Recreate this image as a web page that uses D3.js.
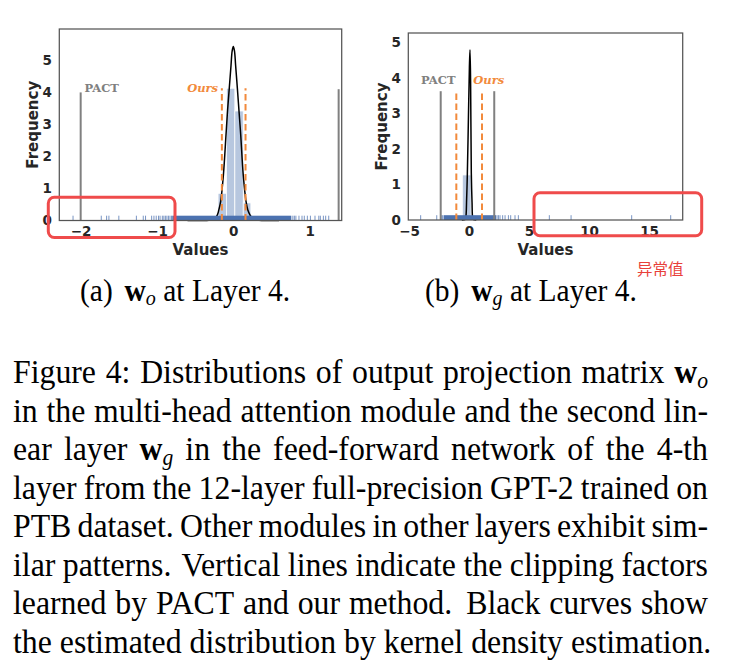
<!DOCTYPE html>
<html><head><meta charset="utf-8">
<script src="https://cdn.jsdelivr.net/npm/d3@7"></script>
<style>body{margin:0;background:#fff;} svg{display:block;}</style>
</head><body>
<svg id="fig" width="732" height="669"></svg>
<script>
// ================= DATA =================
// Panel (a): w_o at Layer 4
const aXTicks = [-2, -1, 0, 1];
const aYTicks = [0, 1, 2, 3, 4, 5];
const aHistEdges = [-0.42, -0.31, -0.20, -0.09, 0.02, 0.13, 0.23, 0.34, 0.45];
const aHistHeights = [0.02, 0.05, 0.85, 4.13, 3.42, 0.55, 0.06, 0.02];
const aKdeX = [-0.60, -0.40, -0.32, -0.28, -0.24, -0.21, -0.19, -0.166, -0.13, -0.096, -0.075, -0.053, -0.03, -0.015, 0.0, 0.015, 0.03, 0.053, 0.075, 0.097, 0.13, 0.167, 0.19, 0.22, 0.25, 0.285, 0.33, 0.40, 0.60];
const aKdeY = [0, 0, 0.01, 0.03, 0.08, 0.17, 0.33, 0.59, 1.42, 2.67, 3.45, 4.13, 4.85, 5.30, 5.43, 5.30, 4.85, 4.13, 3.40, 2.67, 1.42, 0.59, 0.33, 0.17, 0.07, 0.02, 0.01, 0, 0];
const aRug = [-2.10, -1.73, -1.66, -1.63, -1.50, -1.27, -1.18, -1.15, -1.07, -1.04, -1.01, -0.98, -0.96, -0.93, -0.91, -0.89, -0.87, -0.85, -0.83, -0.81,
              0.78, 0.80, 0.82, 0.86, 0.90, 0.93, 0.97, 1.01, 1.07, 1.12, 1.14, 1.18, 1.21, 1.25];
const aRugBands = [[-0.80, 0.76]];
const aPactX = [-2.0, 1.38];
const aPactTop = [4.0, 4.1];
const aOursX = [-0.15, 0.16];
const aOursTop = [4.13, 4.13];

// Panel (b): w_g at Layer 4
const bXTicks = [-5, 0, 5, 10, 15];
const bYTicks = [0, 1, 2, 3, 4, 5];
const bHistEdges = [-2.72, -2.00, -1.28, -0.56, 0.17, 0.89, 1.61, 2.33];
const bHistHeights = [0.01, 0.04, 0.12, 1.27, 0.13, 0.04, 0.01];
const bKdeX = [-0.60, -0.35, -0.28, -0.20, -0.14, -0.05, 0.03, 0.08, 0.13, 0.19, 0.25, 0.31, 0.38, 0.60];
const bKdeY = [0, 0.01, 0.05, 0.60, 1.31, 2.90, 4.30, 4.80, 3.90, 1.31, 0.50, 0.05, 0.01, 0];
const bRug = [-4.03, -2.69, -2.32, -2.20, 2.33, 2.45, 2.58, 2.80, 3.00, 3.28, 3.47, 3.83, 4.11, 6.69, 8.50, 13.55, 16.80];
const bRugBands = [[-2.12, 2.25]];
const bPactX = [-2.36, 2.10];
const bPactTop = [3.63, 3.63];
const bOursX = [-1.06, 1.08];
const bOursTop = [3.63, 3.63];

// Texts
const xLabel = "Values";
const yLabel = "Frequency";
const pactLabel = "PACT";
const oursLabel = "Ours";
const subCaptions = [["(a)", "w_o", "at", "Layer", "4."], ["(b)", "w_g", "at", "Layer", "4."]];
const captionLines = [
  ["Figure", "4:", "Distributions", "of", "output", "projection", "matrix", "w_o"],
  "in the multi-head attention module and the second lin-".split(" "),
  ["ear", "layer", "w_g", "in", "the", "feed-forward", "network", "of", "the", "4-th"],
  "layer from the 12-layer full-precision GPT-2 trained on".split(" "),
  "PTB dataset. Other modules in other layers exhibit sim-".split(" "),
  "ilar patterns. Vertical lines indicate the clipping factors".split(" "),
  "learned by PACT and our method. Black curves show".split(" "),
  "the estimated distribution by kernel density estimation.".split(" ")
];
const outlierNote = "异常值";

// ================= DRAW =================
const svg = d3.select("#fig");
const sans = "'DejaVu Sans', sans-serif";
const serifLbl = "'DejaVu Serif', serif";
const serif = "'Liberation Serif', 'Times New Roman', serif";
const blue = "#4c72b0", orange = "#f28a3c", grey = "#808080", txt = "#262626";

function panel(p) {
  const g = svg.append("g");
  const x = d3.scaleLinear().domain(p.xDomain).range([p.left, p.right]);
  const y = d3.scaleLinear().domain(p.yDomain).range([p.bottom, p.top]);
  const rugH = 4.8;

  g.selectAll("rect.bar").data(p.heights).join("rect").attr("class", "bar")
    .attr("x", (d, i) => x(p.edges[i])).attr("width", (d, i) => x(p.edges[i + 1]) - x(p.edges[i]))
    .attr("y", d => y(d)).attr("height", d => y(0) - y(d))
    .attr("fill", blue).attr("fill-opacity", 0.4).attr("stroke", "#fff").attr("stroke-width", 0.8);

  const kde = p.kdeX.map((v, i) => [v, p.kdeY[i]]);
  g.append("path").datum(kde)
    .attr("d", d3.line().x(d => x(d[0])).y(d => y(d[1])).curve(d3.curveCatmullRom))
    .attr("fill", "none").attr("stroke", "#000").attr("stroke-width", 1.5);

  g.selectAll("rect.band").data(p.rugBands).join("rect").attr("class", "band")
    .attr("x", d => x(d[0])).attr("width", d => x(d[1]) - x(d[0]))
    .attr("y", y(0) - rugH).attr("height", rugH).attr("fill", blue);
  g.selectAll("line.rug").data(p.rug).join("line").attr("class", "rug")
    .attr("x1", d => x(d)).attr("x2", d => x(d)).attr("y1", y(0)).attr("y2", y(0) - rugH)
    .attr("stroke", blue).attr("stroke-width", 1).attr("stroke-opacity", 0.75);

  g.selectAll("line.pact").data(p.pactX).join("line").attr("class", "pact")
    .attr("x1", d => x(d)).attr("x2", d => x(d)).attr("y1", y(0)).attr("y2", (d, i) => y(p.pactTop[i]))
    .attr("stroke", grey).attr("stroke-width", 2);
  g.selectAll("line.ours").data(p.oursX).join("line").attr("class", "ours")
    .attr("x1", d => x(d)).attr("x2", d => x(d)).attr("y1", y(0)).attr("y2", (d, i) => y(p.oursTop[i]))
    .attr("stroke", orange).attr("stroke-width", 2).attr("stroke-dasharray", "6.5,3.5");

  g.append("text").attr("x", x(p.pactLbl[0])).attr("y", y(p.pactLbl[1]))
    .attr("font-family", serifLbl).attr("font-weight", "bold").attr("font-size", 11.5)
    .attr("fill", grey).text(pactLabel);
  g.append("text").attr("x", x(p.oursLbl[0])).attr("y", y(p.oursLbl[1]))
    .attr("text-anchor", p.oursAnchor)
    .attr("font-family", serifLbl).attr("font-weight", "bold").attr("font-style", "italic").attr("font-size", 11.5)
    .attr("fill", orange).text(oursLabel);

  g.append("rect").attr("x", p.left).attr("y", p.top).attr("width", p.right - p.left).attr("height", p.bottom - p.top)
    .attr("fill", "none").attr("stroke", "#555").attr("stroke-width", 1.25);

  const ax = g.append("g").attr("transform", `translate(0,${p.bottom})`)
    .call(d3.axisBottom(x).tickValues(p.xTicks).tickSize(0).tickPadding(6).tickFormat(d3.format("d")));
  const ay = g.append("g").attr("transform", `translate(${p.left},0)`)
    .call(d3.axisLeft(y).tickValues(p.yTicks).tickSize(0).tickPadding(7.5).tickFormat(d3.format("d")));
  [ax, ay].forEach(a => {
    a.select(".domain").remove();
    a.selectAll("text").attr("font-family", sans).attr("font-weight", "bold").attr("font-size", 13.5).attr("fill", txt);
  });

  g.append("text").attr("x", (p.left + p.right) / 2).attr("y", p.bottom + 34.5).attr("text-anchor", "middle")
    .attr("font-family", sans).attr("font-weight", "bold").attr("font-size", 15).attr("fill", txt).text(xLabel);
  g.append("text").attr("transform", `translate(${p.left - 21.3},${(p.top + p.bottom) / 2}) rotate(-90)`)
    .attr("text-anchor", "middle")
    .attr("font-family", sans).attr("font-weight", "bold").attr("font-size", 15).attr("fill", txt).text(yLabel);
}

panel({ left: 59.3, right: 341.7, top: 29, bottom: 220.5, xDomain: [-2.28, 1.42], yDomain: [0, 5.98],
  xTicks: aXTicks, yTicks: aYTicks, edges: aHistEdges, heights: aHistHeights, kdeX: aKdeX, kdeY: aKdeY,
  rug: aRug, rugBands: aRugBands, pactX: aPactX, pactTop: aPactTop, oursX: aOursX, oursTop: aOursTop,
  pactLbl: [-1.95, 4.02], oursLbl: [-0.20, 4.02], oursAnchor: "end" });
panel({ left: 408.3, right: 682.7, top: 33, bottom: 220, xDomain: [-5.06, 17.8], yDomain: [0, 5.27],
  xTicks: bXTicks, yTicks: bYTicks, edges: bHistEdges, heights: bHistHeights, kdeX: bKdeX, kdeY: bKdeY,
  rug: bRug, rugBands: bRugBands, pactX: bPactX, pactTop: bPactTop, oursX: bOursX, oursTop: bOursTop,
  pactLbl: [-4.0, 3.83], oursLbl: [0.36, 3.83], oursAnchor: "start" });

// red annotation boxes
const boxes = [[48.3, 197.3, 175, 237.5], [534, 192.7, 701.7, 235.7]];
svg.selectAll("rect.note").data(boxes).join("rect").attr("class", "note")
  .attr("x", d => d[0]).attr("y", d => d[1]).attr("width", d => d[2] - d[0]).attr("height", d => d[3] - d[1])
  .attr("rx", 6).attr("fill", "none").attr("stroke", "#ef4b4b").attr("stroke-width", 3);
svg.append("text").attr("x", 637).attr("y", 274.5)
  .attr("font-family", "'Noto Sans CJK SC', sans-serif").attr("font-size", 15.5).attr("fill", "#e8403a").text(outlierNote);

// caption text helpers
const vStretch = 1.08;
function renderWord(parent, word, size, yb) {
  const t = parent.append("text").attr("x", 0).attr("y", yb)
    .attr("font-family", serif).attr("font-size", size).attr("fill", "#000");
  const m = word.match(/^w_(\w)$/);
  if (m) {
    t.append("tspan").attr("font-weight", "bold").text("w");
    t.append("tspan").attr("font-style", "italic").attr("font-size", size * 0.68).attr("dy", size * 0.14).text(m[1]);
  } else t.text(word);
  return t;
}
function layoutLine(words, size, left, width, yb, justify, firstGapExtra) {
  const g = svg.append("g")
    .attr("transform", `translate(0,${yb}) scale(1,${vStretch}) translate(0,${-yb})`);
  const nodes = words.map(w => renderWord(g, w, size, yb));
  const widths = nodes.map(n => n.node().getComputedTextLength());
  const nat = [], str = [];
  for (let i = 0; i < words.length - 1; i++) {
    const w = words[i];
    let n = 0.25 * size, s = 0.15 * size;
    if (/[.]$/.test(w) && i > 0) { n += 0.11 * size; s *= 3; }
    if (i === 0 && firstGapExtra) n += firstGapExtra * size;
    nat.push(n); str.push(s);
  }
  let r = 0;
  if (justify) {
    const sw = d3.sum(widths), sn = d3.sum(nat), ss = d3.sum(str);
    r = (width - sw - sn) / ss;
  }
  let xpos = left;
  nodes.forEach((n, i) => {
    n.attr("x", xpos);
    xpos += widths[i] + (i < nat.length ? nat[i] + r * str[i] : 0);
  });
}

// sub-captions
layoutLine(subCaptions[0], 29.5, 80, 0, 301, false, 0.15);
layoutLine(subCaptions[1], 29.5, 425, 0, 301, false, 0.15);

// figure caption
const capSize = 31.8, capLeft = 13, capWidth = 695, capTop = 383.5, capStep = 38.5;
captionLines.forEach((ln, i) => {
  layoutLine(ln, capSize, capLeft, capWidth, capTop + i * capStep, i < captionLines.length - 1, 0);
});
</script>
</body></html>
